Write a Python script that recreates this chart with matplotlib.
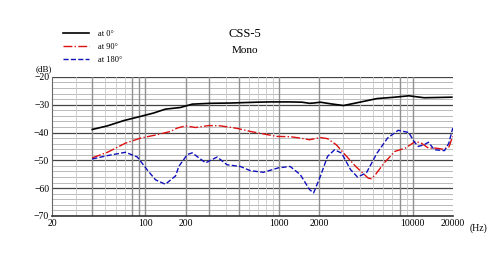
import matplotlib
matplotlib.use("Agg")
import matplotlib.pyplot as plt
import numpy as np

title = "CSS-5"
subtitle = "Mono"
series_names = ["at 0°", "at 90°", "at 180°"]

f0 = [40, 52, 69, 92, 115, 141, 183, 224, 307, 432, 682, 856, 1210, 1482, 1690, 1812,
      2037, 2446, 3030, 3746, 5400, 7330, 9340, 12160, 15640, 19600]
db0 = [-38.9, -37.6, -35.7, -34.2, -33.0, -31.6, -31.0, -29.8, -29.5, -29.4, -29.1, -29.0,
       -29.0, -29.1, -29.5, -29.4, -29.1, -29.7, -30.3, -29.4, -27.8, -27.3, -26.8, -27.5,
       -27.4, -27.3]

f90 = [40, 52, 71, 92, 122, 154, 173, 200, 237, 298, 364, 484, 608, 764, 962, 1210, 1439,
       1690, 2037, 2302, 2680, 3120, 3746, 4640, 4900, 5240, 6100, 7330, 8800, 10460, 11570,
       13110, 14860, 16880, 18630, 19910]
db90 = [-49.1, -47.1, -43.8, -42.0, -40.8, -39.6, -38.4, -37.6, -38.2, -37.5, -37.6, -38.5,
        -39.6, -40.5, -41.4, -41.5, -42.0, -42.6, -41.8, -42.2, -44.4, -48.0, -52.2, -56.4,
        -56.6, -55.2, -51.0, -46.8, -45.6, -43.2, -43.8, -45.6, -45.6, -46.0, -45.2, -41.4]

f180 = [40, 52, 71, 87, 103, 119, 141, 168, 178, 206, 224, 251, 282, 344, 408, 513, 608, 764,
        988, 1210, 1439, 1690, 1812, 2037, 2302, 2600, 2936, 3420, 3860, 4500, 5400, 6480,
        7780, 9340, 10200, 10990, 12160, 13110, 14500, 17280, 18630, 19910]
db180 = [-49.5, -48.3, -47.1, -48.8, -53.4, -57.0, -58.6, -55.6, -52.1, -47.9, -47.3, -49.1,
         -50.9, -48.8, -51.6, -52.2, -53.7, -54.3, -52.7, -52.2, -55.1, -60.5, -61.7, -55.7,
         -48.6, -46.2, -47.4, -53.3, -56.0, -54.5, -47.4, -42.0, -39.2, -40.0, -43.2, -45.0,
         -44.4, -43.5, -46.2, -46.5, -43.8, -38.4]

xticks = [20, 100, 200, 1000, 2000, 10000, 20000]
yticks = [-20, -30, -40, -50, -60, -70]

serif = ["Liberation Serif", "DejaVu Serif"]

fig = plt.figure(figsize=(5.0, 2.66), dpi=100)
ax = fig.add_axes([0.104, 0.188, 0.802, 0.523])
ax.set_xscale("log")
ax.set_xlim(20, 20000)
ax.set_ylim(-70, -20)

# grid
for y in np.arange(-70, -19, 2):
    major = (y % 10 == 0)
    ax.axhline(y, color="#444444" if major else "#b0b0b0", lw=0.9 if major else 0.6, zorder=0)
for dec in [10, 100, 1000, 10000]:
    for m in range(1, 10):
        f = dec * m
        if 20 <= f <= 20000:
            dark = f in (40, 80, 90, 100, 200, 300, 500, 1000, 2000, 8000, 10000)
            ax.axvline(f, color="#909090" if dark else "#c8c8c8", lw=1.0 if dark else 0.6, zorder=0)
ax.axvline(20000, color="#c8c8c8", lw=0.6, zorder=0)

ax.plot(f0, db0, color="black", lw=1.2, label=series_names[0], zorder=3)
ax.plot(f90, db90, color="#dd1111", lw=1.0, ls="-.", label=series_names[1], zorder=3)
ax.plot(f180, db180, color="#1111bb", lw=1.0, ls="--", label=series_names[2], zorder=3)

for s in ["top", "right"]:
    ax.spines[s].set_visible(False)
ax.spines["left"].set_color("#666666")
ax.spines["left"].set_linewidth(0.8)
ax.spines["bottom"].set_color("#333333")
ax.spines["bottom"].set_linewidth(1.2)

ax.set_xticks(xticks)
ax.set_xticklabels([str(t) for t in xticks], fontfamily=serif, fontsize=7)
ax.xaxis.set_minor_locator(matplotlib.ticker.NullLocator())
ax.set_yticks(yticks)
ax.set_yticklabels(["\u2212" + str(-t) for t in yticks], fontfamily=serif, fontsize=7)
ax.tick_params(length=0, pad=2)

fig.text(0.088, 0.74, "(dB)", fontfamily=serif, fontsize=6.5, ha="center", va="center")
fig.text(0.956, 0.143, "(Hz)", fontfamily=serif, fontsize=7, ha="center", va="center")
fig.text(0.49, 0.872, title, fontfamily=serif, fontsize=9, ha="center", va="center")
fig.text(0.49, 0.81, subtitle, fontfamily=serif, fontsize=8, ha="center", va="center")

leg = fig.legend(loc="upper left", bbox_to_anchor=(0.11, 0.915), frameon=False,
                 prop={"family": serif, "size": 6}, handlelength=3.2, labelspacing=0.6,
                 handletextpad=1.0)

fig.savefig("out.png", dpi=100)
